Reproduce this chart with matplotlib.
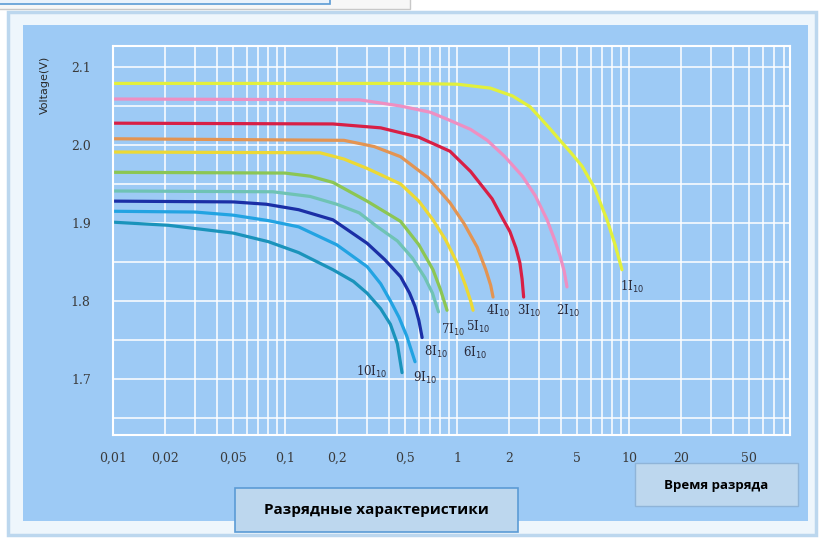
import numpy as np
import matplotlib
matplotlib.use("Agg")
import matplotlib.pyplot as plt
from matplotlib.patches import Rectangle
from matplotlib.ticker import FixedLocator, LogLocator, NullFormatter

# discharge curves: time (h) vs cell voltage (V)
t_1 = [0.01, 0.5, 1.0, 1.56, 2.1, 2.66, 3.04, 3.5, 3.97, 4.6, 5.33, 6.3, 7.45, 8.3, 9.1]
v_1 = [2.079, 2.079, 2.078, 2.073, 2.063, 2.049, 2.035, 2.020, 2.006, 1.990, 1.973,
       1.945, 1.904, 1.872, 1.840]
t_2 = [0.01, 0.27, 0.47, 0.7, 0.9, 1.2, 1.5, 1.9, 2.4, 2.85, 3.34, 3.7, 3.97, 4.2, 4.36]
v_2 = [2.059, 2.058, 2.050, 2.042, 2.032, 2.020, 2.006, 1.985, 1.960, 1.935, 1.904,
       1.878, 1.858, 1.838, 1.818]
t_3 = [0.01, 0.19, 0.36, 0.6, 0.91, 1.2, 1.6, 1.85, 2.03, 2.2, 2.32, 2.39, 2.44]
v_3 = [2.028, 2.027, 2.022, 2.010, 1.992, 1.966, 1.931, 1.905, 1.889, 1.868, 1.849,
       1.828, 1.805]
t_4 = [0.01, 0.22, 0.33, 0.47, 0.68, 0.91, 1.1, 1.31, 1.47, 1.57, 1.62]
v_4 = [2.008, 2.006, 1.998, 1.985, 1.958, 1.926, 1.899, 1.869, 1.840, 1.820, 1.805]
t_5 = [0.01, 0.16, 0.22, 0.3, 0.47, 0.6, 0.725, 0.86, 1.0, 1.12, 1.2, 1.24]
v_5 = [1.991, 1.990, 1.982, 1.970, 1.950, 1.928, 1.904, 1.878, 1.849, 1.820, 1.800, 1.788]
t_6 = [0.01, 0.1, 0.14, 0.19, 0.3, 0.47, 0.6, 0.725, 0.8, 0.875]
v_6 = [1.965, 1.964, 1.960, 1.952, 1.928, 1.902, 1.872, 1.840, 1.815, 1.788]
t_7 = [0.01, 0.085, 0.14, 0.2, 0.27, 0.34, 0.45, 0.55, 0.65, 0.72, 0.78]
v_7 = [1.941, 1.940, 1.934, 1.924, 1.913, 1.896, 1.877, 1.855, 1.830, 1.810, 1.786]
t_8 = [0.01, 0.05, 0.078, 0.12, 0.19, 0.3, 0.38, 0.47, 0.53, 0.57, 0.6, 0.627]
v_8 = [1.928, 1.927, 1.924, 1.917, 1.904, 1.874, 1.853, 1.831, 1.810, 1.793, 1.775, 1.753]
t_9 = [0.01, 0.03, 0.05, 0.08, 0.12, 0.2, 0.3, 0.36, 0.41, 0.46, 0.51, 0.57]
v_9 = [1.915, 1.914, 1.910, 1.903, 1.895, 1.872, 1.844, 1.822, 1.800, 1.779, 1.755, 1.722]
t_10 = [0.01, 0.021, 0.05, 0.08, 0.12, 0.19, 0.25, 0.3, 0.36, 0.41, 0.45, 0.479]
v_10 = [1.901, 1.897, 1.887, 1.876, 1.862, 1.840, 1.825, 1.810, 1.790, 1.770, 1.745, 1.708]

curves = [(t_1, v_1), (t_2, v_2), (t_3, v_3), (t_4, v_4), (t_5, v_5),
          (t_6, v_6), (t_7, v_7), (t_8, v_8), (t_9, v_9), (t_10, v_10)]
colors = ["#e2f03c", "#ee8fc2", "#d81f45", "#e39452", "#ecd935",
          "#8cc653", "#6fc3b4", "#1b2fa6", "#22a3e2", "#1a93bb"]

# curve labels (multiples of the 10 h current) and where they sit
labels = [r"1I$_{10}$", r"2I$_{10}$", r"3I$_{10}$", r"4I$_{10}$", r"5I$_{10}$",
          r"6I$_{10}$", r"7I$_{10}$", r"8I$_{10}$", r"9I$_{10}$", r"10I$_{10}$"]
label_t = [10.4, 4.42, 2.62, 1.74, 1.33, 1.27, 0.95, 0.755, 0.652, 0.32]
label_v = [1.818, 1.787, 1.787, 1.787, 1.766, 1.733, 1.763, 1.735, 1.701, 1.709]

xticks = [0.01, 0.02, 0.05, 0.1, 0.2, 0.5, 1, 2, 5, 10, 20, 50]
xtick_labels = ["0,01", "0,02", "0,05", "0,1", "0,2", "0,5", "1", "2", "5", "10", "20", "50"]
yticks = [1.7, 1.8, 1.9, 2.0, 2.1]
ytick_labels = ["1.7", "1.8", "1.9", "2.0", "2.1"]

W, H = 825, 540
panel = "#9dcaf5"

fig = plt.figure(figsize=(8.25, 5.4), dpi=100)
fig.patch.set_facecolor("white")

def box(x0, y0, x1, y1, z, **kw):
    # pixel box -> figure fraction rectangle
    r = Rectangle((x0 / W, 1 - y1 / H), (x1 - x0) / W, (y1 - y0) / H,
                  transform=fig.transFigure, zorder=z, **kw)
    fig.patches.append(r)

# cut off boxes at the very top
box(-5, -10, 410, 9, -10, facecolor="#f7f7f7", edgecolor="#c8c8c8", lw=1)
box(-5, -10, 330, 4, -9, facecolor="#eaf2fb", edgecolor="#5b9bd5", lw=1.2)
# outer frame and blue panel
box(8, 12, 816, 535, -10, facecolor="#eef6fc", edgecolor="#bcd7ee", lw=2.5)
box(23, 25, 808, 521, -9, facecolor=panel, edgecolor="none")

ax = fig.add_axes([113 / W, 1 - 435 / H, 677 / W, 389 / H])
ax.set_facecolor(panel)
ax.set_xscale("log")
ax.set_xlim(0.01, 86.3)
ax.set_ylim(1.628, 2.127)

ax.xaxis.set_major_locator(FixedLocator(xticks))
ax.xaxis.set_minor_locator(LogLocator(base=10, subs=np.arange(2, 10)))
ax.xaxis.set_minor_formatter(NullFormatter())
ax.set_xticklabels(xtick_labels)
ax.set_yticks(yticks)
ax.set_yticklabels(ytick_labels)
ax.yaxis.set_minor_locator(FixedLocator(np.arange(1.65, 2.11, 0.05)))

ax.grid(True, which="both", color="white", lw=1.1)
ax.set_axisbelow(True)
ax.tick_params(which="both", length=0)
ax.tick_params(axis="x", pad=12, labelsize=9, labelcolor="#3a3a3a")
ax.tick_params(axis="y", pad=16, labelsize=9, labelcolor="#3a3a3a")
for lab in ax.get_xticklabels() + ax.get_yticklabels():
    lab.set_family("DejaVu Serif")
for s in ax.spines.values():
    s.set_color("white")
    s.set_linewidth(1.5)

for (t, v), c in zip(curves, colors):
    ax.plot(t, v, color=c, lw=2.3, solid_capstyle="round", solid_joinstyle="round")

for txt, lt, lv in zip(labels, label_t, label_v):
    ax.text(lt, lv, txt, ha="center", va="center", fontsize=8.5,
            family="DejaVu Serif", color="#2a2a3a")

fig.text(45 / W, 1 - 85 / H, "Voltage(V)", rotation=90, ha="center", va="center",
         fontsize=8, color="#2a2a2a")

# caption boxes
box(235, 488, 518, 532, 5, facecolor="#bdd7ee", edgecolor="#5b9bd5", lw=1.2)
fig.text(376 / W, 1 - 510 / H, "Разрядные характеристики", ha="center", va="center",
         fontsize=11, fontweight="bold", family=["Open Sans", "DejaVu Sans"],
         color="black", zorder=6)
box(635, 463, 798, 506, 5, facecolor="#bdd7ee", edgecolor="#8fb4d8", lw=1)
fig.text(716 / W, 1 - 485 / H, "Время разряда", ha="center", va="center",
         fontsize=9.5, fontweight="bold", family=["Open Sans", "DejaVu Sans"],
         color="black", zorder=6)

fig.savefig("out.png", dpi=100)
